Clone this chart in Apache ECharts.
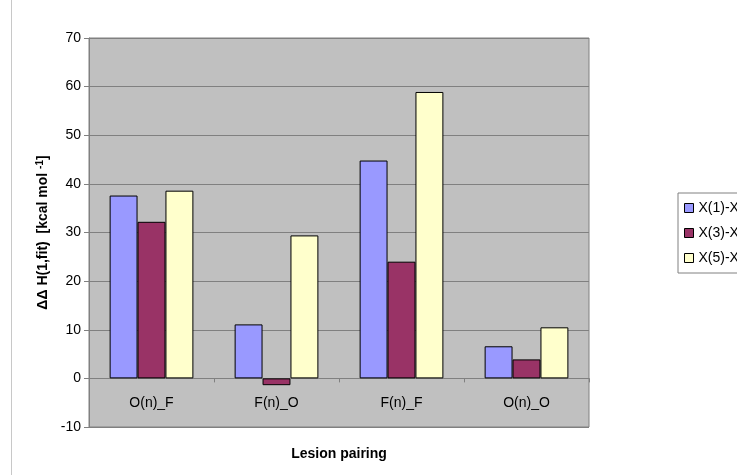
<!DOCTYPE html>
<html><head><meta charset="utf-8">
<script src="https://cdn.jsdelivr.net/npm/echarts@6/dist/echarts.min.js"></script>
<style>html,body{margin:0;padding:0;background:#fff;}#c{width:737px;height:475px;}</style>
</head><body><div id="c"></div>
<script>
var categories = ["O(n)_F", "F(n)_O", "F(n)_F", "O(n)_O"];
var seriesNames = ["X(1)-X(2)", "X(3)-X(4)", "X(5)-X(6)"];
var s1 = [37.6, 11.1, 44.8, 6.6];
var s3 = [32.2, -1.4, 24.0, 3.9];
var s5 = [38.6, 29.4, 58.9, 10.5];
var colors = ["#9999FF", "#993366", "#FFFFCC"];
var FONT = "Liberation Sans, Arial, sans-serif";
var chart = echarts.init(document.getElementById('c'));
function bar(name, data, color) {
  return {name: name, type: 'bar', data: data, barGap: '0%', barCategoryGap: '33%',
    itemStyle: {color: color, borderColor: '#000', borderWidth: 1}, animation: false};
}
chart.setOption({
  animation: false,
  backgroundColor: '#fff',
  grid: {left: 89, top: 38, width: 500, height: 389, outerBoundsMode: 'none', containLabel: false,
    show: true, backgroundColor: '#C0C0C0', borderColor: '#808080', borderWidth: 1},
  legend: {orient: 'vertical', left: 678, top: 193, itemWidth: 9, itemHeight: 9, itemGap: 11,
    padding: [8, 6, 8, 6], borderColor: '#808080', borderWidth: 1, backgroundColor: '#fff',
    icon: 'rect', textStyle: {fontFamily: FONT, fontSize: 14, color: '#000'},
    itemStyle: {borderColor: '#000', borderWidth: 1}, data: seriesNames},
  xAxis: {type: 'category', data: categories, name: 'Lesion pairing', nameLocation: 'middle', nameGap: 20,
    nameTextStyle: {fontFamily: FONT, fontSize: 14, fontWeight: 'bold', color: '#000'},
    axisLine: {onZero: true, lineStyle: {color: '#808080'}},
    axisTick: {show: true, length: 4, lineStyle: {color: '#808080'}},
    axisLabel: {margin: -31, fontFamily: FONT, fontSize: 14, color: '#000'}},
  yAxis: {type: 'value', min: -10, max: 70, interval: 10,
    name: '{a|ΔΔ H(1,fit)  [kcal mol }{s|-1}{a|]}', nameLocation: 'middle', nameGap: 38, nameRotate: 90,
    nameTextStyle: {rich: {a: {fontFamily: FONT, fontSize: 14, fontWeight: 'bold', color: '#000'},
      s: {fontFamily: FONT, fontSize: 10, fontWeight: 'bold', color: '#000', verticalAlign: 'top', padding: [0,0,6,0]}}},
    axisLine: {show: true, lineStyle: {color: '#808080'}},
    axisTick: {show: true, length: 5, lineStyle: {color: '#808080'}},
    splitLine: {lineStyle: {color: '#808080', width: 1}},
    axisLabel: {margin: 8, fontFamily: FONT, fontSize: 14, color: '#000'}},
  graphic: [{type: 'line', shape: {x1: 11.5, y1: 0, x2: 11.5, y2: 475}, style: {stroke: '#c8c8c8', lineWidth: 1}}],
  series: [bar(seriesNames[0], s1, colors[0]), bar(seriesNames[1], s3, colors[1]), bar(seriesNames[2], s5, colors[2])]
});
</script></body></html>
